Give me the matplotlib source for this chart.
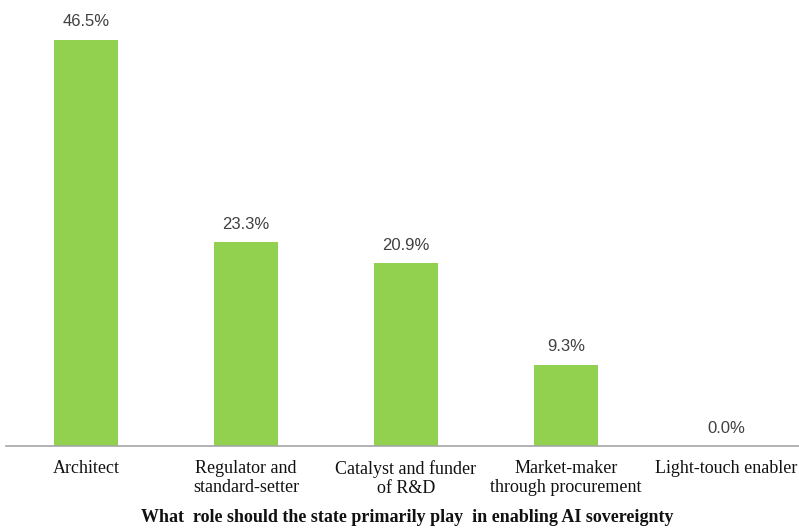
import matplotlib.pyplot as plt

categories = ['Architect', 'Regulator and\nstandard-setter', 'Catalyst and funder\nof R&D',
              'Market-maker\nthrough procurement', 'Light-touch enabler']
shares = [46.5, 23.3, 20.9, 9.3, 0.0]

fig = plt.figure(figsize=(7.99, 5.28), dpi=100)
ax = fig.add_axes([6 / 799, 82 / 528, 800 / 799, 437 / 528])

x = range(len(categories))
bars = ax.bar(x, shares, width=0.4, color='#92D050')

for xi, v in zip(x, shares):
    ax.text(xi, v + 1.2, '%.1f%%' % v, ha='center', va='bottom',
            fontsize=12, color='#404040', family='Liberation Sans')

ax.set_xlim(-0.5, 4.5)
ax.set_ylim(0, 50)
ax.set_yticks([])
ax.set_xticks(list(x))
ax.set_xticklabels(categories, family='Liberation Serif', fontsize=13,
                   color='#111111', linespacing=1.2)
ax.tick_params(axis='x', length=0, pad=10)

for s in ['top', 'right', 'left']:
    ax.spines[s].set_visible(False)
ax.spines['bottom'].set_color('#A6A6A6')
ax.spines['bottom'].set_linewidth(1.2)

fig.text(0.51, 0.003, 'What  role should the state primarily play  in enabling AI sovereignty',
         ha='center', va='bottom', family='Liberation Serif', fontweight='bold',
         fontsize=13, color='#111111')

plt.savefig('out.png')
